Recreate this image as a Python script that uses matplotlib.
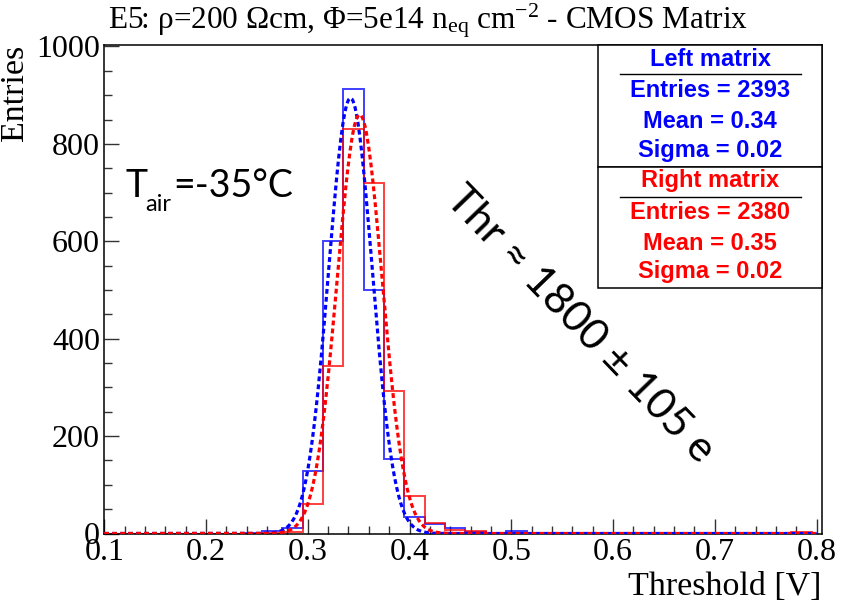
import numpy as np
import matplotlib
matplotlib.use('Agg')
import matplotlib.pyplot as plt
from matplotlib.ticker import MultipleLocator, FormatStrFormatter
from matplotlib.patches import Rectangle
from matplotlib.lines import Line2D

matplotlib.rc('font', family='Liberation Serif')
matplotlib.rc('mathtext', fontset='custom', rm='Liberation Serif', it='Liberation Serif:italic')

# histogram binning (ROOT style, 0.02 V bins)
bin_start = 0.095
bin_width = 0.02
left_counts = [0, 0, 0, 0, 0, 0, 0, 1, 5, 11, 129, 601, 912, 500, 153, 33, 20, 11,
               4, 1, 5, 1, 0, 1, 0, 0, 0, 0, 1, 0, 0, 2, 0, 1, 0]
right_counts = [0, 0, 0, 0, 0, 0, 0, 0, 1, 3, 61, 343, 830, 719, 293, 76, 21, 7,
                6, 2, 2, 1, 1, 0, 1, 0, 0, 1, 0, 0, 1, 0, 1, 0, 4]

# gaussian fit parameters (constant, mean, sigma)
left_fit = (894, 0.342, 0.0214)
right_fit = (860, 0.351, 0.0221)

left_stats = ["Left matrix", "Entries = 2393", "Mean = 0.34", "Sigma = 0.02"]
right_stats = ["Right matrix", "Entries = 2380", "Mean = 0.35", "Sigma = 0.02"]

title = r"E5: ρ=200 Ωcm, Φ=5e14 n$_{\mathrm{eq}}$ cm$^{-2}$ - CMOS Matrix"

W, H = 846, 613


def px(x, y):
  return x / W, 1 - y / H


def main():
  fig = plt.figure(figsize=(W / 100, H / 100), dpi=100)
  ax = fig.add_axes([104.2 / W, 79.5 / H, 717.5 / W, 488.5 / H])

  edges = bin_start + bin_width * np.arange(len(left_counts) + 1)
  ax.stairs(left_counts, edges, color='#0000ff', lw=1.4, alpha=0.75, zorder=2)
  ax.stairs(right_counts, edges, color='#ff0000', lw=1.4, alpha=0.75, zorder=2)

  xs = np.linspace(0.1, 0.8, 700)
  for (c, m, s), col in [(left_fit, '#0000ff'), (right_fit, '#ff0000')]:
    ax.plot(xs, c * np.exp(-0.5 * ((xs - m) / s) ** 2), color=col, lw=2.3,
            linestyle=(0, (1.5, 1.0)), zorder=3)

  ax.set_xlim(0.1, 0.805)
  ax.set_ylim(0, 1003)
  ax.xaxis.set_major_locator(MultipleLocator(0.1))
  ax.xaxis.set_minor_locator(MultipleLocator(0.02))
  ax.yaxis.set_major_locator(MultipleLocator(200))
  ax.yaxis.set_minor_locator(MultipleLocator(50))
  ax.xaxis.set_major_formatter(FormatStrFormatter('%.1f'))
  ax.tick_params(which='both', direction='in', top=False, right=False,
                 labelsize=23, color='#333333', width=1.0)
  ax.tick_params(which='major', length=10.5, pad=3)
  ax.tick_params(which='minor', length=5.5)
  for sp in ax.spines.values():
    sp.set_linewidth(1.1)

  ax.set_xlabel("Threshold [V]", fontsize=24.5, loc='right')
  ax.xaxis.set_label_coords(1.0, -0.077)
  ax.set_ylabel("Entries", fontsize=24.5, loc='top')
  ax.yaxis.set_label_coords(-0.103, 1.0)

  fig.text(*px(428, 28), title, fontsize=22.5, ha='center', va='baseline')

  # stat boxes
  for top, bot in [(45, 166.7), (166.7, 288)]:
    x0, y0 = px(598, bot)
    x1, y1 = px(822, top)
    fig.add_artist(Rectangle((x0, y0), x1 - x0, y1 - y0, transform=fig.transFigure,
                             facecolor='white', edgecolor='black', lw=1.1, zorder=5))
  for lines, col, ys, uline in [(left_stats, '#0000ff', [60, 90.7, 121.7, 150], 74.3),
                                (right_stats, '#ff0000', [180, 212.7, 243.3, 271.7], 196.7)]:
    for txt, yy in zip(lines, ys):
      fig.text(*px(710, yy), txt, color=col, fontsize=17, fontweight='bold',
               family='Liberation Sans', ha='center', va='center', zorder=6)
    xa, ya = px(620, uline)
    xb, _ = px(801, uline)
    fig.add_artist(Line2D([xa, xb], [ya, ya], transform=fig.transFigure,
                          color='black', lw=1.0, zorder=6))

  # annotations
  sans = ['Lato', 'DejaVu Sans']
  fig.text(*px(125, 196.7), "T", fontsize=27, family=sans, va='baseline')
  fig.text(*px(145, 211), "air", fontsize=17, family=sans, va='baseline')
  fig.text(*px(173, 196.7), "=-35°C", fontsize=27, family=sans, va='baseline')
  fig.text(*px(580, 325), "Thr ≈ 1800 ± 105 e", fontsize=31, family=sans,
           rotation=-46, rotation_mode='anchor', ha='center', va='center')

  fig.savefig("out.png", dpi=100)


if __name__ == "__main__":
  main()
